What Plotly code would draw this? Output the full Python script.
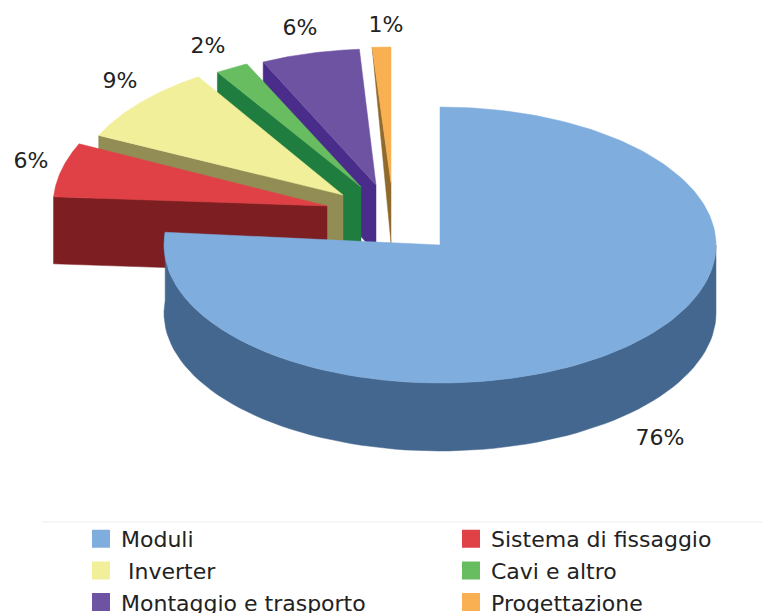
import math
import plotly.graph_objects as go

categories = ["Moduli", "Sistema di fissaggio", " Inverter", "Cavi e altro", "Montaggio e trasporto", "Progettazione"]
values = [76, 6, 9, 2, 6, 1]
labels = ["76%", "6%", "9%", "2%", "6%", "1%"]

top_colors = ["#7faddd", "#e04146", "#f2ef9b", "#68bd60", "#6e53a3", "#f9b052"]
side_colors = ["#44678f", "#7d1e22", "#918d55", "#1f7d3f", "#4a2c8a", "#8f6a2d"]

# 3D projection of each slice: apex position, radii, extrusion depth at apex / rim
apex_x = [440, 327, 343, 361, 376, 391]
apex_y = [245, 206, 195, 187, 185, 183]
rad_x = [276, 274, 270, 268, 265, 300]
rad_y = [138, 146, 140, 136, 136, 136]
depth_apex = [68, 67, 68, 68, 68, 60]
depth_rim = [68, 67, 68, 68, 68, 0]
label_x = [660, 31, 120, 208, 300, 386]
label_y = [439, 162, 82, 47, 29, 26]
legend_of = ["legend", "legend2", "legend", "legend2", "legend", "legend2"]

total = sum(values)
starts = [sum(values[:i]) / total * 360 for i in range(len(values))]
sweeps = [v / total * 360 for v in values]


def pt(i, deg, drop=0):
    a = math.radians(deg)
    return apex_x[i] + rad_x[i] * math.sin(a), apex_y[i] - rad_y[i] * math.cos(a) + drop


def arc(i, d0, d1, drop=0, n=80):
    p = [pt(i, d0 + (d1 - d0) * k / n, drop) for k in range(n + 1)]
    return [q[0] for q in p], [q[1] for q in p]


def poly(xs, ys, color, name):
    return go.Scatter(x=xs + xs[:1], y=ys + ys[:1], mode="lines", fill="toself", fillcolor=color,
                      line=dict(color=color, width=0.5), hoverinfo="name", name=name, showlegend=False)


fig = go.Figure()

# exploded slices, back to front
for i in [5, 4, 3, 2, 1]:
    d0 = starts[i]
    left = pt(i, d0)
    leftb = pt(i, d0, depth_rim[i])
    ax, ay = apex_x[i], apex_y[i]
    fig.add_trace(poly([left[0], ax, ax, leftb[0]], [left[1], ay, ay + depth_apex[i], leftb[1]],
                       side_colors[i], categories[i]))
    xs, ys = arc(i, d0, d0 + sweeps[i])
    fig.add_trace(poly(xs + [ax], ys + [ay], top_colors[i], categories[i]))

# main slice: wall, then top face
end = sweeps[0] + 1.7
xt, yt = arc(0, 90, end)
xb, yb = arc(0, 90, end, depth_rim[0])
fig.add_trace(poly(xt + xb[::-1], yt + yb[::-1], side_colors[0], categories[0]))
xs, ys = arc(0, 0, end, n=200)
fig.add_trace(poly(xs + [apex_x[0]], ys + [apex_y[0]], top_colors[0], categories[0]))

# percentage labels
fig.add_trace(go.Scatter(x=label_x, y=label_y, mode="text", text=labels, showlegend=False, hoverinfo="skip",
                         textfont=dict(family="DejaVu Sans", size=22, color="#222222")))

# legend entries
for name, color, lg in zip(categories, top_colors, legend_of):
    fig.add_trace(go.Scatter(x=[None], y=[None], mode="markers", name=name, legend=lg,
                             marker=dict(symbol="square", size=16, color=color,
                                         line=dict(color=color, width=2))))

legend_font = dict(family="DejaVu Sans", size=22, color="#222222")
W, H = 762, 605  # the page adds an 8px margin before the plot
legend_top = (613 - 518) / H
fig.update_layout(
    width=W, height=H, autosize=False,
    margin=dict(l=0, r=0, t=0, b=0, autoexpand=False),
    paper_bgcolor="white", plot_bgcolor="white",
    xaxis=dict(range=[8, 770], visible=False, fixedrange=True),
    yaxis=dict(range=[613, 8], visible=False, fixedrange=True),
    legend=dict(x=(81 - 8) / W, xanchor="left", y=legend_top, yanchor="top",
                bgcolor="rgba(0,0,0,0)", font=legend_font),
    legend2=dict(x=(451 - 8) / W, xanchor="left", y=legend_top, yanchor="top",
                 bgcolor="rgba(0,0,0,0)", font=legend_font),
    shapes=[dict(type="line", xref="x", yref="y", x0=42, x1=770, y0=522, y1=522,
                 line=dict(color="#eeeeee", width=1))],
)
fig.write_html("out.html")
